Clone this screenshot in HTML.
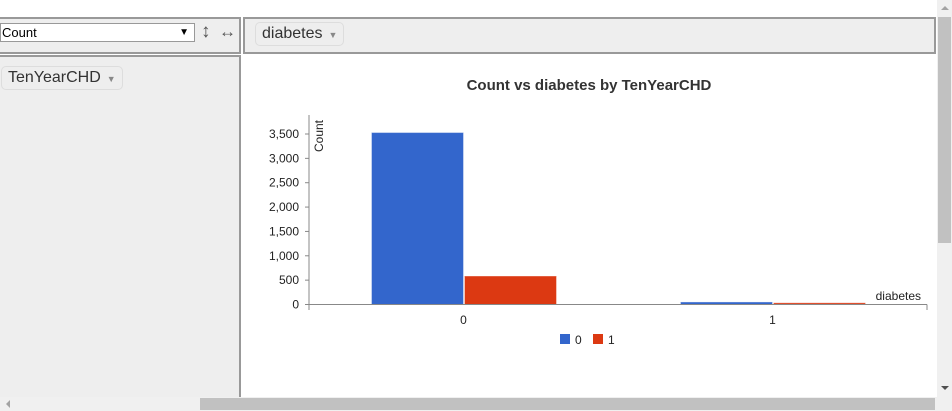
<!DOCTYPE html>
<html style="overflow:hidden;height:411px"><head><meta charset="utf-8"><style>
body{margin:0;width:952px;height:411px;overflow:hidden;background:#fff;font-family:"Liberation Sans",Arial,sans-serif;position:relative}
.abs{position:absolute;box-sizing:border-box}
.cell{background:#eee;border:2px solid #999}
.pill{position:absolute;background:#eee;border:1px solid #ddd;border-radius:5px;color:#333;font-size:16px;padding:2px 6px}
.pill span{font-size:9px;color:#888;margin-left:6px}
</style></head><body>
<div class="abs cell" style="left:-2px;top:17px;width:243px;height:37px"></div>
<div class="abs" style="left:0;top:23px;width:195px;height:19px;background:#fff;border:1px solid #999;font-size:13px;line-height:17px;padding-left:1px">Count<span style="position:absolute;right:5px;top:0;font-size:10px">&#9660;</span></div>
<div class="abs" style="left:201px;top:21px;font-size:19px;color:#555">&#8597;</div>
<div class="abs" style="left:219px;top:22px;font-size:17px;color:#555">&#8596;</div>
<div class="abs cell" style="left:243px;top:17px;width:693px;height:37px"></div>
<div class="pill" style="left:255px;top:22px">diabetes<span>&#9660;</span></div>
<div class="abs cell" style="left:-2px;top:55px;width:243px;height:342px;border-bottom:0"></div>
<div class="pill" style="left:1px;top:66px">TenYearCHD<span>&#9660;</span></div>
<div class="abs" style="left:937px;top:0;width:15px;height:397px;background:#f0f0f0"><div style="position:absolute;left:1px;top:17px;width:13px;height:226px;background:#c1c1c1"></div><div style="position:absolute;left:4px;top:6px;border:4px solid transparent;border-bottom:4px solid #a3a3a3;border-top:0"></div><div style="position:absolute;left:4px;top:386px;border:4px solid transparent;border-top:4px solid #505050;border-bottom:0"></div></div>
<div class="abs" style="left:0;top:397px;width:952px;height:14px;background:#f0f0f0"><div style="position:absolute;left:200px;top:1px;width:735px;height:12px;background:#c1c1c1"></div><div style="position:absolute;left:6px;top:3px;border:4px solid transparent;border-right:4px solid #a3a3a3;border-left:0"></div></div>
<svg class="abs" style="left:0;top:0" width="936" height="396" viewBox="0 0 936 396"></svg>
<script>
const categories=["0","1"];
const seriesNames=["0","1"];
const series0=[3530,52];
const series1=[585,35];
const ticks=[0,500,1000,1500,2000,2500,3000,3500];
const colors=["#3366cc","#dc3912"];
const svg=document.querySelector('svg');
const NS='http://www.w3.org/2000/svg';
function mk(t,a,txt){const e=document.createElementNS(NS,t);for(const k in a)e.setAttribute(k,a[k]);if(txt!==undefined)e.textContent=txt;svg.appendChild(e);return e;}
const x0=309,x1=927,yBase=304.5,yTop=115;
const y=v=>yBase-v*(170.5/3500);
const gw=(x1-x0)/categories.length;
const bw=92;
let t=mk('text',{x:589,y:90,'text-anchor':'middle','font-size':15,'font-weight':'bold',fill:'#333'},'Count vs diabetes by TenYearCHD');

ticks.forEach(v=>{
 const l=mk('text',{x:299,y:y(v)+4,'text-anchor':'end','font-size':12,fill:'#222'},v.toLocaleString('en-US'));
 
 mk('line',{x1:305,x2:309,y1:y(v),y2:y(v),stroke:'#888'});
});
const yt=mk('text',{transform:'translate(323,152) rotate(-90)','font-size':12,fill:'#222'},'Count');

[series0,series1].forEach((s,si)=>{
 s.forEach((v,ci)=>{
  const cx=x0+gw*(ci+0.5);
  const bx=si===0?cx-bw:cx+1;
  const r=mk('rect',{x:bx,y:y(v),width:bw,height:yBase-y(v),fill:colors[si],stroke:'#fff','stroke-opacity':0.4});
  
  
 });
});
mk('line',{x1:x0,x2:x0,y1:yTop,y2:310,stroke:'#888'});
mk('line',{x1:x0,x2:x1,y1:yBase,y2:yBase,stroke:'#888'});
mk('line',{x1:x1,x2:x1,y1:yBase,y2:310,stroke:'#888'});
categories.forEach((c,ci)=>{
 const l=mk('text',{x:x0+gw*(ci+0.5),y:324,'text-anchor':'middle','font-size':12,fill:'#222'},c);
 
});
const xt=mk('text',{x:921,y:300,'text-anchor':'end','font-size':12,fill:'#222'},'diabetes');

seriesNames.forEach((n,i)=>{
 const lx=560+i*33;
 const r=mk('rect',{x:lx,y:334,width:10,height:10,fill:colors[i]});
 
 const l=mk('text',{x:lx+15,y:344,'font-size':12,fill:'#222'},n);
 
});
</script>
</body></html>
